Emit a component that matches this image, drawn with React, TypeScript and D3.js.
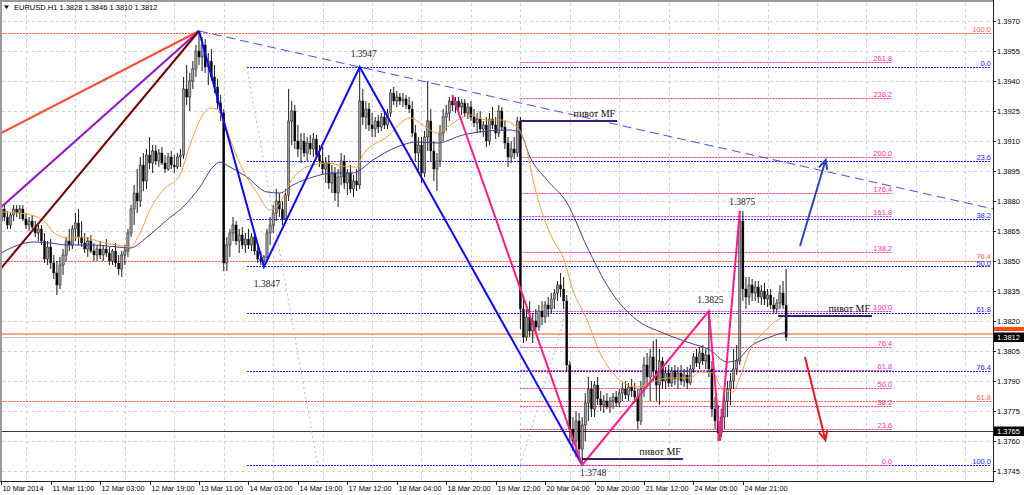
import React from 'react';
import * as d3 from 'd3';

// ---------- DATA ----------
const openP = [
1.3870,1.3876,1.3872,1.3868,1.3873,1.3876,1.3874,1.3876,1.3871,1.3868,
1.3870,1.3867,1.3864,1.3866,1.3860,1.3851,1.3857,1.3849,1.3844,1.3838,
1.3848,1.3853,1.3860,1.3858,1.3866,1.3869,1.3862,1.3859,1.3856,1.3860,
1.3855,1.3853,1.3856,1.3853,1.3856,1.3854,1.3850,1.3855,1.3849,1.3846,
1.3853,1.3855,1.3864,1.3876,1.3884,1.3880,1.3898,1.3890,1.3903,1.3899,
1.3905,1.3900,1.3904,1.3899,1.3896,1.3902,1.3898,1.3897,1.3902,1.3903,
1.3936,1.3932,1.3940,1.3946,1.3955,1.3952,1.3958,1.3947,1.3950,1.3942,
1.3937,1.3929,1.3924,1.3849,1.3858,1.3864,1.3868,1.3860,1.3863,1.3858,
1.3861,1.3858,1.3862,1.3855,1.3851,1.3850,1.3852,1.3864,1.3868,1.3874,
1.3880,1.3876,1.3871,1.3883,1.3920,1.3925,1.3910,1.3906,1.3910,1.3904,
1.3909,1.3906,1.3911,1.3903,1.3900,1.3896,1.3899,1.3889,1.3894,1.3884,
1.3892,1.3900,1.3889,1.3894,1.3886,1.3890,1.3888,1.3930,1.3922,1.3926,
1.3918,1.3916,1.3920,1.3917,1.3922,1.3918,1.3924,1.3934,1.3930,1.3932,
1.3930,1.3931,1.3928,1.3926,1.3914,1.3904,1.3908,1.3894,1.3912,1.3920,
1.3905,1.3896,1.3900,1.3914,1.3922,1.3924,1.3930,1.3928,1.3930,1.3927,
1.3929,1.3924,1.3927,1.3922,1.3919,1.3921,1.3916,1.3918,1.3910,1.3921,
1.3918,1.3914,1.3925,1.3917,1.3909,1.3902,1.3906,1.3904,1.3920,1.3826,
1.3812,1.3822,1.3815,1.3820,1.3817,1.3825,1.3822,1.3828,1.3826,1.3831,
1.3834,1.3838,1.3836,1.3830,1.3798,1.3766,1.3760,1.3770,1.3756,1.3768,
1.3779,1.3786,1.3776,1.3788,1.3781,1.3778,1.3780,1.3777,1.3780,1.3782,
1.3779,1.3784,1.3786,1.3783,1.3787,1.3785,1.3782,1.3770,1.3786,1.3798,
1.3792,1.3802,1.3795,1.3788,1.3800,1.3790,1.3794,1.3789,1.3795,1.3791,
1.3794,1.3790,1.3793,1.3789,1.3796,1.3802,1.3799,1.3804,1.3800,1.3803,
1.3796,1.3776,1.3770,1.3764,1.3772,1.3780,1.3786,1.3790,1.3796,1.3800,
1.3870,1.3836,1.3832,1.3838,1.3834,1.3837,1.3832,1.3835,1.3831,1.3833,
1.3828,1.3826,1.3829,1.3834,1.3828];

const highP = [
1.3878,1.3879,1.3875,1.3874,1.3878,1.3878,1.3878,1.3878,1.3874,1.3872,
1.3873,1.3870,1.3868,1.3868,1.3864,1.3860,1.3861,1.3853,1.3850,1.3852,
1.3856,1.3862,1.3866,1.3868,1.3874,1.3876,1.3870,1.3864,1.3862,1.3863,
1.3859,1.3858,1.3860,1.3858,1.3861,1.3857,1.3856,1.3859,1.3853,1.3855,
1.3858,1.3866,1.3878,1.3888,1.3896,1.3902,1.3904,1.3906,1.3912,1.3908,
1.3908,1.3906,1.3907,1.3903,1.3904,1.3905,1.3903,1.3904,1.3906,1.3942,
1.3948,1.3944,1.3950,1.3958,1.3965,1.3962,1.3961,1.3954,1.3956,1.3948,
1.3941,1.3933,1.3926,1.3862,1.3866,1.3872,1.3870,1.3866,1.3867,1.3864,
1.3866,1.3864,1.3864,1.3858,1.3855,1.3853,1.3866,1.3872,1.3878,1.3886,
1.3884,1.3880,1.3886,1.3936,1.3930,1.3928,1.3918,1.3914,1.3914,1.3912,
1.3913,1.3914,1.3913,1.3908,1.3907,1.3902,1.3903,1.3898,1.3897,1.3896,
1.3904,1.3903,1.3896,1.3898,1.3893,1.3896,1.3947,1.3936,1.3930,1.3929,
1.3924,1.3922,1.3923,1.3924,1.3925,1.3926,1.3936,1.3937,1.3935,1.3934,
1.3934,1.3933,1.3932,1.3930,1.3918,1.3912,1.3912,1.3915,1.3940,1.3926,
1.3910,1.3904,1.3918,1.3926,1.3928,1.3932,1.3933,1.3932,1.3932,1.3931,
1.3931,1.3929,1.3930,1.3926,1.3924,1.3925,1.3920,1.3922,1.3924,1.3927,
1.3922,1.3928,1.3927,1.3920,1.3912,1.3910,1.3912,1.3922,1.3922,1.3832,
1.3826,1.3830,1.3824,1.3826,1.3828,1.3830,1.3830,1.3832,1.3834,1.3836,
1.3840,1.3844,1.3842,1.3833,1.3800,1.3772,1.3775,1.3774,1.3772,1.3784,
1.3792,1.3790,1.3790,1.3792,1.3785,1.3783,1.3784,1.3782,1.3784,1.3785,
1.3786,1.3789,1.3790,1.3789,1.3791,1.3789,1.3786,1.3790,1.3802,1.3804,
1.3806,1.3810,1.3811,1.3806,1.3802,1.3797,1.3798,1.3797,1.3798,1.3797,
1.3798,1.3796,1.3797,1.3798,1.3804,1.3806,1.3807,1.3808,1.3806,1.3825,
1.3800,1.3782,1.3778,1.3776,1.3784,1.3790,1.3794,1.3806,1.3808,1.3875,
1.3875,1.3842,1.3842,1.3841,1.3840,1.3840,1.3838,1.3839,1.3836,1.3836,
1.3832,1.3831,1.3838,1.3840,1.3846];

const lowP = [
1.3866,1.3870,1.3866,1.3866,1.3870,1.3872,1.3871,1.3870,1.3866,1.3865,
1.3866,1.3862,1.3860,1.3858,1.3849,1.3848,1.3846,1.3841,1.3833,1.3836,
1.3843,1.3850,1.3855,1.3856,1.3860,1.3858,1.3857,1.3854,1.3852,1.3854,
1.3850,1.3850,1.3851,1.3850,1.3852,1.3848,1.3848,1.3847,1.3843,1.3842,
1.3848,1.3852,1.3862,1.3868,1.3874,1.3877,1.3885,1.3886,1.3896,1.3894,
1.3898,1.3897,1.3898,1.3894,1.3895,1.3896,1.3894,1.3896,1.3897,1.3901,
1.3928,1.3925,1.3936,1.3942,1.3948,1.3945,1.3944,1.3938,1.3940,1.3934,
1.3926,1.3920,1.3845,1.3845,1.3852,1.3860,1.3858,1.3854,1.3856,1.3854,
1.3856,1.3855,1.3853,1.3849,1.3848,1.3847,1.3850,1.3858,1.3864,1.3870,
1.3872,1.3868,1.3869,1.3880,1.3908,1.3906,1.3902,1.3899,1.3902,1.3900,
1.3903,1.3902,1.3901,1.3897,1.3893,1.3889,1.3886,1.3884,1.3880,1.3877,
1.3888,1.3886,1.3883,1.3884,1.3882,1.3885,1.3886,1.3918,1.3916,1.3915,
1.3912,1.3912,1.3914,1.3915,1.3916,1.3916,1.3922,1.3928,1.3927,1.3928,
1.3927,1.3926,1.3924,1.3912,1.3900,1.3895,1.3889,1.3892,1.3905,1.3900,
1.3890,1.3885,1.3897,1.3910,1.3915,1.3920,1.3925,1.3924,1.3925,1.3923,
1.3922,1.3921,1.3920,1.3917,1.3914,1.3914,1.3912,1.3907,1.3908,1.3916,
1.3911,1.3912,1.3915,1.3906,1.3897,1.3899,1.3901,1.3902,1.3816,1.3809,
1.3810,1.3812,1.3809,1.3814,1.3815,1.3818,1.3819,1.3822,1.3824,1.3826,
1.3830,1.3832,1.3826,1.3795,1.3760,1.3755,1.3752,1.3752,1.3748,1.3760,
1.3770,1.3772,1.3772,1.3778,1.3775,1.3774,1.3776,1.3774,1.3776,1.3777,
1.3777,1.3780,1.3781,1.3780,1.3782,1.3779,1.3766,1.3768,1.3782,1.3788,
1.3780,1.3790,1.3780,1.3778,1.3786,1.3786,1.3787,1.3787,1.3788,1.3786,
1.3788,1.3787,1.3786,1.3788,1.3794,1.3797,1.3796,1.3798,1.3796,1.3792,
1.3772,1.3766,1.3760,1.3762,1.3766,1.3772,1.3778,1.3786,1.3793,1.3798,
1.3830,1.3826,1.3828,1.3830,1.3830,1.3829,1.3828,1.3828,1.3827,1.3826,
1.3824,1.3824,1.3826,1.3826,1.3810];

const closeP = [
1.3876,1.3872,1.3868,1.3873,1.3876,1.3874,1.3876,1.3871,1.3868,1.3870,
1.3867,1.3864,1.3866,1.3860,1.3851,1.3857,1.3849,1.3844,1.3838,1.3848,
1.3853,1.3860,1.3858,1.3866,1.3869,1.3862,1.3859,1.3856,1.3860,1.3855,
1.3853,1.3856,1.3853,1.3856,1.3854,1.3850,1.3855,1.3849,1.3846,1.3853,
1.3855,1.3864,1.3876,1.3884,1.3880,1.3898,1.3890,1.3903,1.3899,1.3905,
1.3900,1.3904,1.3899,1.3896,1.3902,1.3898,1.3897,1.3902,1.3903,1.3936,
1.3932,1.3940,1.3946,1.3955,1.3952,1.3958,1.3947,1.3950,1.3942,1.3937,
1.3929,1.3924,1.3849,1.3858,1.3864,1.3868,1.3860,1.3863,1.3858,1.3861,
1.3858,1.3862,1.3855,1.3851,1.3850,1.3852,1.3864,1.3868,1.3874,1.3880,
1.3876,1.3871,1.3883,1.3920,1.3925,1.3910,1.3906,1.3910,1.3904,1.3909,
1.3906,1.3911,1.3903,1.3900,1.3896,1.3899,1.3889,1.3894,1.3884,1.3892,
1.3900,1.3889,1.3894,1.3886,1.3890,1.3888,1.3930,1.3922,1.3926,1.3918,
1.3916,1.3920,1.3917,1.3922,1.3918,1.3924,1.3934,1.3930,1.3932,1.3930,
1.3931,1.3928,1.3926,1.3914,1.3904,1.3908,1.3894,1.3912,1.3920,1.3905,
1.3896,1.3900,1.3914,1.3922,1.3924,1.3930,1.3928,1.3930,1.3927,1.3929,
1.3924,1.3927,1.3922,1.3919,1.3921,1.3916,1.3918,1.3910,1.3921,1.3918,
1.3914,1.3925,1.3917,1.3909,1.3902,1.3906,1.3904,1.3920,1.3826,1.3812,
1.3822,1.3815,1.3820,1.3817,1.3825,1.3822,1.3828,1.3826,1.3831,1.3834,
1.3838,1.3836,1.3830,1.3798,1.3766,1.3760,1.3770,1.3756,1.3768,1.3779,
1.3786,1.3776,1.3788,1.3781,1.3778,1.3780,1.3777,1.3780,1.3782,1.3779,
1.3784,1.3786,1.3783,1.3787,1.3785,1.3782,1.3770,1.3786,1.3798,1.3792,
1.3802,1.3795,1.3788,1.3800,1.3790,1.3794,1.3789,1.3795,1.3791,1.3794,
1.3790,1.3793,1.3789,1.3796,1.3802,1.3799,1.3804,1.3800,1.3803,1.3796,
1.3776,1.3770,1.3764,1.3772,1.3780,1.3786,1.3790,1.3796,1.3800,1.3870,
1.3836,1.3832,1.3838,1.3834,1.3837,1.3832,1.3835,1.3831,1.3833,1.3828,
1.3826,1.3829,1.3834,1.3828,1.3812];

// moving averages: [bar, price]
const maFast: [number, number][] = [
[0,1.38745],[6,1.3874],[13.5,1.38705],[16.8,1.38645],[21.3,1.38615],[26.5,1.3862],[32,1.38595],
[37.5,1.3858],[41.7,1.3857],[44.9,1.3864],[48.1,1.38755],[52.4,1.38855],[57.8,1.3893],[61.1,1.3908],
[64.3,1.39205],[67.5,1.39265],[69.8,1.3926],[71.8,1.39205],[75,1.3907],[78.2,1.38955],[82.8,1.3884],
[87,1.38755],[90.2,1.3879],[93.4,1.3889],[98.9,1.3897],[105.4,1.3899],[112.9,1.3897],[115.1,1.3897],
[117,1.3903],[124.8,1.3912],[132.3,1.39215],[136.5,1.3918],[141,1.3914],[144.3,1.3917],[151.7,1.3923],
[157.2,1.39205],[161.4,1.39205],[166.9,1.3917],[170.1,1.39055],[172.1,1.38905],[175.3,1.3873],
[178.6,1.38605],[181.8,1.3852],[185,1.38355],[189.6,1.38205],[193.8,1.3804],[200.2,1.37905],
[205.7,1.3787],[210.9,1.37895],[215.4,1.37915],[222.9,1.37915],[226.1,1.37945],[230.3,1.3794],
[233.6,1.37855],[236.8,1.37845],[239.1,1.3792],[242.3,1.38055],[246.5,1.3814],[251.1,1.38205],[254.3,1.3823]];

const maSlow: [number, number][] = [
[0,1.3854],[3.8,1.3857],[10.3,1.38595],[15.8,1.3859],[21.3,1.3858],[29.7,1.3858],[37.5,1.3857],
[41.7,1.38565],[47.2,1.3862],[53.6,1.38705],[58.8,1.3877],[64.3,1.3887],[68.5,1.3897],[70.8,1.38995],
[74,1.3897],[79.5,1.3892],[86,1.38845],[90.2,1.3884],[94.4,1.3888],[100.9,1.3892],[107.4,1.3894],
[113.8,1.3894],[120.3,1.39005],[128,1.3907],[134.5,1.39095],[141,1.3909],[149.4,1.3913],[157.2,1.3915],
[164.6,1.39155],[167.9,1.3914],[171.1,1.3902],[176.6,1.38905],[183.1,1.3879],[189.6,1.3857],
[197,1.38355],[205.7,1.38205],[214.2,1.3814],[222.9,1.3809],[229.4,1.38055],[234.9,1.37995],
[238.1,1.38005],[242.3,1.3807],[248.8,1.3812],[254.3,1.38145]];

const zigzagBlue: [number, number][] = [[64,1.3965],[85,1.3847],[116,1.3947],[188,1.3748]];
const zigzagPink: [number, number][] = [[146,1.3933],[188,1.3748],[229,1.3825],[232.6,1.3760],[239,1.3875]];
const fanLeftPrices = [1.3914, 1.3877, 1.38465];
const fanApex: [number, number] = [64, 1.3965];
const trendAnchors: [number, number][] = [[64,1.3965],[116,1.3947]];

const fibLevelsBlue = [0, 23.6, 38.2, 50, 61.8, 76.4, 100];
const fibBlue = { p0: 1.3947, p100: 1.3748, bar0: 79.5, bar1: 102.4 };
const fibLevelsPink = [0, 23.6, 38.2, 50, 61.8, 76.4, 100, 138.2, 161.8, 176.4, 200, 238.2, 261.8];
const fibPink = { p0: 1.3748, p100: 1.3825, bar0: 168, bar1: 183, barEnd: 288.3 };
const fibLevelsRed = [61.8, 76.4, 100];
const fibRed = { p0: 1.34818, p100: 1.3964 };

const pivots = [
  { bar0: 168, bar1: 199.3, price: 1.3920 },
  { bar0: 188, bar1: 220.6, price: 1.3751 },
  { bar0: 251.4, bar1: 281.8, price: 1.38225 },
];
const pivotText = 'пивот MF';

const priceNotes = [
  { text: '1.3947', bar: 116, price: 1.3947 },
  { text: '1.3847', bar: 85, price: 1.3847 },
  { text: '1.3748', bar: 188, price: 1.3748 },
  { text: '1.3825', bar: 229, price: 1.3825 },
  { text: '1.3875', bar: 239, price: 1.3875 },
];

const hLineSupport = 1.3765;
const hLineSalmon = 1.38135;
const bidPrice = 1.3812;

const arrowUp: [number, number][] = [[258.5, 1.38575], [266.8, 1.39005]];
const arrowDown: [number, number][] = [[260.1, 1.3802], [266.7, 1.37605]];

const priceTicks = [1.3745,1.3760,1.3775,1.3790,1.3805,1.3820,1.3835,1.3850,1.3865,1.3880,1.3895,1.3910,1.3925,1.3940,1.3955,1.3970];
const timeLabels = ['10 Mar 2014','11 Mar 11:00','12 Mar 03:00','12 Mar 19:00','13 Mar 11:00','14 Mar 03:00','14 Mar 19:00','17 Mar 12:00','18 Mar 04:00','18 Mar 20:00','19 Mar 12:00','20 Mar 04:00','20 Mar 20:00','21 Mar 12:00','24 Mar 05:00','24 Mar 21:00'];
const timeLabelBars = [0,16,32,48,64,80,96,112,128,144,160,176,192,208,224,240];
const gridBars = [8,24,40,56,72,88,104,120,136,152,168,184,200,216,232,248,264,280,296,312];
const titleText = 'EURUSD,H1  1.3828 1.3846 1.3810 1.3812';

// ---------- LAYOUT ----------
const W = 1024, H = 495;
const PL = 2, PR = 993, PT = 3, PB = 481;
const x = d3.scaleLinear().domain([0, 321]).range([1.26, 993.15]);
const y = d3.scaleLinear().domain([1.3745, 1.3970]).range([471, 21]);
const AX = 'Liberation Sans, Arial, sans-serif';
const SERIF = 'Liberation Serif, Times New Roman, serif';

const noteOffsets = [[4, -10], [3, 20], [11, 11], [1.5, -8], [2.5, -6]];

function lineAt(pts: [number, number][], curve?: any) {
  const g = d3.line<[number, number]>().x(d => x(d[0])).y(d => y(d[1]));
  if (curve) g.curve(curve);
  return g(pts) || '';
}

function arrowPath(a: [number, number][]) {
  const x1 = x(a[0][0]), y1 = y(a[0][1]), x2 = x(a[1][0]), y2 = y(a[1][1]);
  const ang = Math.atan2(y2 - y1, x2 - x1);
  const L = 10, s = 0.45;
  const hx1 = x2 - L * Math.cos(ang - s), hy1 = y2 - L * Math.sin(ang - s);
  const hx2 = x2 - L * Math.cos(ang + s), hy2 = y2 - L * Math.sin(ang + s);
  return `M${x1},${y1}L${x2},${y2}M${hx1},${hy1}L${x2},${y2}L${hx2},${hy2}`;
}

export default function App() {
  const fanPaths = fanLeftPrices.map(p => {
    const slope = (fanApex[1] - p) / (fanApex[0] - 0);
    const pl = p - slope * 2;
    return lineAt([fanApex, [-2, pl]]);
  });
  const tSlope = (trendAnchors[1][1] - trendAnchors[0][1]) / (trendAnchors[1][0] - trendAnchors[0][0]);
  const trendPath = lineAt([trendAnchors[0], [330, trendAnchors[0][1] + tSlope * (330 - trendAnchors[0][0])]]);

  const blueC = '#1e1eff', pinkC = '#ff2d95', redC = '#ff5f3f';
  const fibLvl = (f: { p0: number; p100: number }, l: number) => f.p0 + (f.p100 - f.p0) * l / 100;
  const FS = 7.5;

  return (
    <svg width={W} height={H} style={{ position: 'absolute', left: 0, top: 0, background: '#fff' }}>
      <defs>
        <clipPath id="plot"><rect x={PL} y={PT} width={PR - PL} height={PB - PT} /></clipPath>
      </defs>
      <rect x={0} y={0} width={W} height={H} fill="#fff" />
      {/* grid */}
      <g stroke="#cfcfcf" strokeWidth={1} strokeDasharray="3,3">
        {priceTicks.map(p => <line key={p} x1={PL} x2={PR} y1={Math.round(y(p)) + 0.5} y2={Math.round(y(p)) + 0.5} />)}
        {gridBars.map(b => <line key={b} x1={Math.round(x(b)) + 0.5} x2={Math.round(x(b)) + 0.5} y1={PT} y2={PB} />)}
      </g>
      <g clipPath="url(#plot)">
        {/* horizontal lines */}
        <line x1={PL} x2={PR} y1={y(bidPrice) + 0.5} y2={y(bidPrice) + 0.5} stroke="#c8c8c8" strokeWidth={1} />
        <line x1={PL} x2={PR} y1={y(hLineSalmon)} y2={y(hLineSalmon)} stroke="#f6a787" strokeWidth={2} />
        <line x1={PL} x2={PR} y1={Math.round(y(hLineSupport)) + 0.5} y2={Math.round(y(hLineSupport)) + 0.5} stroke="#3a3a3a" strokeWidth={1} />
        {/* fib diagonals */}
        <line x1={x(fibBlue.bar0)} y1={y(fibBlue.p0)} x2={x(fibBlue.bar1)} y2={y(fibBlue.p100)} stroke="#b8b8b8" strokeDasharray="2,3" />
        <line x1={x(fibPink.bar0)} y1={y(fibPink.p0)} x2={x(fibPink.bar1)} y2={y(fibPink.p100)} stroke="#b8b8b8" strokeDasharray="2,3" />
        {/* red fib */}
        {fibLevelsRed.map(l => {
          const yy = Math.round(y(fibLvl(fibRed, l))) + 0.5;
          return <g key={'r' + l}>
            <line x1={PL} x2={991} y1={yy} y2={yy} stroke={redC} strokeWidth={1.2} strokeDasharray="2,1" />
            <text x={991} y={yy - (l === 76.4 ? 2.5 : 2)} textAnchor="end" fontFamily={AX} fontSize={FS} fill={redC}>{l.toFixed(1)}</text>
          </g>;
        })}
        {/* blue fib */}
        {fibLevelsBlue.map(l => {
          const yy = Math.round(y(fibLvl(fibBlue, l))) + 0.5;
          return <g key={'b' + l}>
            <line x1={x(fibBlue.bar0)} x2={991} y1={yy} y2={yy} stroke={blueC} strokeWidth={1.2} strokeDasharray="2,1" />
            <text x={991} y={yy - (l === 50 ? 0.5 : 2)} textAnchor="end" fontFamily={AX} fontSize={FS} fill={blueC}>{l.toFixed(1)}</text>
          </g>;
        })}
        {/* pink fib */}
        {fibLevelsPink.map(l => {
          const yy = Math.round(y(fibLvl(fibPink, l))) + 0.5;
          return <g key={'p' + l}>
            <line x1={x(fibPink.bar0)} x2={x(fibPink.barEnd)} y1={yy} y2={yy} stroke={pinkC} strokeWidth={1.2} strokeDasharray="2,1" />
            <text x={x(fibPink.barEnd)} y={yy - 2} textAnchor="end" fontFamily={AX} fontSize={FS} fill={pinkC}>{l.toFixed(1)}</text>
          </g>;
        })}
        {/* candles */}
        {openP.map((o, i) => {
          const c = closeP[i];
          const bull = c >= o;
          const cx = x(i);
          const top = y(Math.max(o, c));
          const bot = y(Math.min(o, c));
          return <g key={i}>
            <line x1={cx} x2={cx} y1={y(highP[i])} y2={y(lowP[i])} stroke="#000" strokeWidth={0.9} />
            <rect x={cx - 1.1} y={top} width={2.2} height={Math.max(bot - top, 0.8)} fill={bull ? '#9c9c9c' : '#000'} stroke="#111" strokeWidth={bull ? 0.5 : 0.3} />
          </g>;
        })}
        {/* moving averages */}
        <path d={lineAt(maSlow, d3.curveMonotoneX)} fill="none" stroke="#3f3f9a" strokeWidth={1} />
        <path d={lineAt(maFast, d3.curveMonotoneX)} fill="none" stroke="#ff9a30" strokeWidth={1} />
        {/* trend line */}
        <path d={trendPath} fill="none" stroke="#4a4aff" strokeWidth={1} strokeDasharray="9,5" />
        {/* fan lines */}
        <path d={fanPaths[0]} stroke="#ff4a2a" strokeWidth={2} fill="none" />
        <path d={fanPaths[1]} stroke="#9a10d0" strokeWidth={2} fill="none" />
        <path d={fanPaths[2]} stroke="#7a0000" strokeWidth={2} fill="none" />
        {/* zigzags */}
        <path d={lineAt(zigzagBlue)} fill="none" stroke="#0a0aff" strokeWidth={2} />
        <path d={lineAt(zigzagPink)} fill="none" stroke="#ff1a8c" strokeWidth={2} />
        {/* pivots */}
        {pivots.map((p, i) => <g key={'pv' + i}>
          <line x1={x(p.bar0)} x2={x(p.bar1)} y1={y(p.price)} y2={y(p.price)} stroke="#3b1d70" strokeWidth={2} />
          <text x={x(p.bar1) - 2} y={y(p.price) - 4} textAnchor="end" fontFamily={SERIF} fontSize={10} fill="#111">{pivotText}</text>
        </g>)}
        {/* price notes */}
        {priceNotes.map((n, i) => <text key={n.text} x={x(n.bar) + noteOffsets[i][0]} y={y(n.price) + noteOffsets[i][1]} textAnchor="middle" fontFamily={SERIF} fontSize={9.5} fill="#222">{n.text}</text>)}
        {/* arrows */}
        <path d={arrowPath(arrowUp)} fill="none" stroke="#2b44c8" strokeWidth={2} />
        <path d={arrowPath(arrowDown)} fill="none" stroke="#e8161a" strokeWidth={2} />
      </g>
      {/* frame */}
      <rect x={0} y={0} width={PR} height={2} fill="#9a9a9a" />
      <rect x={0} y={0} width={2} height={PB} fill="#9a9a9a" />
      <line x1={PR + 0.5} x2={PR + 0.5} y1={0} y2={PB + 1} stroke="#222" />
      <line x1={0} x2={PR + 1} y1={PB + 0.5} y2={PB + 0.5} stroke="#222" />
      {/* right axis */}
      {priceTicks.map(p => <g key={'t' + p}>
        <line x1={PR} x2={PR + 3} y1={Math.round(y(p)) + 0.5} y2={Math.round(y(p)) + 0.5} stroke="#222" />
        <text x={PR + 4} y={y(p) + 2.7} fontFamily={AX} fontSize={7.5} fill="#000">{p.toFixed(4)}</text>
      </g>)}
      {/* price boxes */}
      <rect x={PR + 1} y={y(hLineSalmon) - 7} width={30} height={4} fill="#ff4a10" />
      <rect x={PR + 1} y={y(bidPrice) - 4.5} width={30} height={9.5} fill="#000" />
      <text x={PR + 4} y={y(bidPrice) + 2.8} fontFamily={AX} fontSize={7.5} fill="#fff">{bidPrice.toFixed(4)}</text>
      <rect x={PR + 1} y={y(hLineSupport) - 4.5} width={30} height={9.5} fill="#000" />
      <text x={PR + 4} y={y(hLineSupport) + 2.8} fontFamily={AX} fontSize={7.5} fill="#fff">{hLineSupport.toFixed(4)}</text>
      {/* bottom axis */}
      {timeLabels.map((t, i) => {
        const xx = Math.round(x(timeLabelBars[i])) + 0.5;
        return <g key={t}>
          <line x1={xx} x2={xx} y1={PB} y2={PB + 4} stroke="#222" />
          <text x={xx + 1} y={491} fontFamily={AX} fontSize={7.3} fill="#000">{t}</text>
        </g>;
      })}
      {/* title */}
      <path d="M4,5.5L9,5.5L6.5,9Z" fill="#000" />
      <text x={14} y={10} fontFamily={AX} fontSize={7.5} fill="#000">{titleText}</text>
    </svg>
  );
}
